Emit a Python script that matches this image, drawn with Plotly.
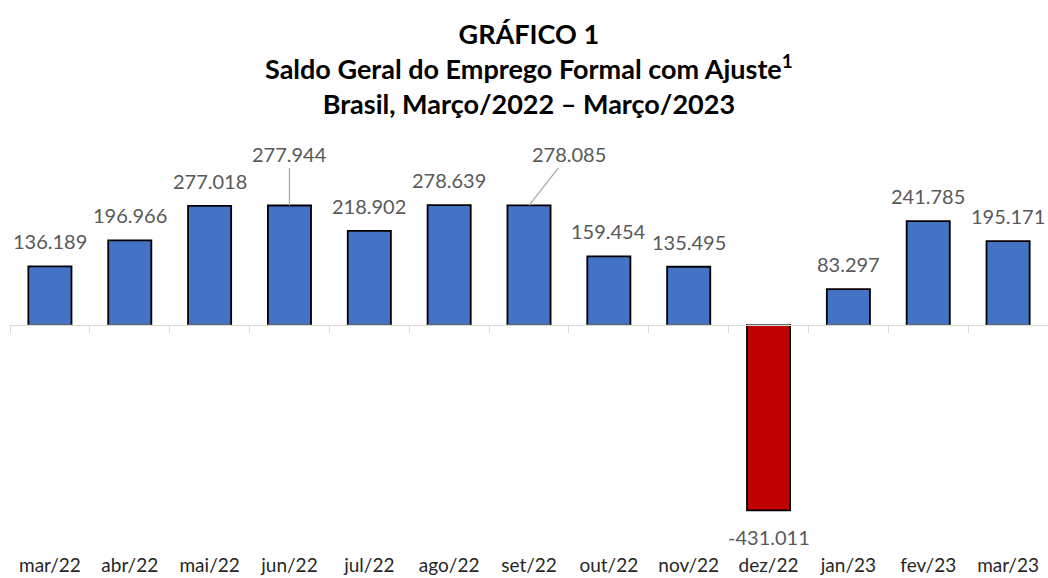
import plotly.graph_objects as go

categories = ["mar/22", "abr/22", "mai/22", "jun/22", "jul/22", "ago/22", "set/22",
              "out/22", "nov/22", "dez/22", "jan/23", "fev/23", "mar/23"]
values = [136189, 196966, 277018, 277944, 218902, 278639, 278085,
          159454, 135495, -431011, 83297, 241785, 195171]
leader_labels = {"jun/22": (0, -51), "set/22": (40, -51)}

def fmt(v):
    return f"{v:,}".replace(",", ".")

colors = ["#C00000" if v < 0 else "#4472C4" for v in values]

FONT = "Lato"
LABEL_FONT = dict(family=FONT, size=20, color="#595959")
fig = go.Figure()
fig.add_trace(go.Bar(
    x=categories, y=values, marker=dict(color=colors, line=dict(color="black", width=1.8)),
    width=0.54, showlegend=False, hoverinfo="skip",
))
# invisible trace on secondary x axis for tick marks along zero line
fig.add_trace(go.Bar(x=categories, y=[0]*len(categories), xaxis="x2", yaxis="y",
                     showlegend=False, hoverinfo="skip", marker=dict(color="rgba(0,0,0,0)")))

for c, v in zip(categories, values):
    if c in leader_labels:
        ax, ay = leader_labels[c]
        fig.add_annotation(x=c, y=v, text=fmt(v), showarrow=True, arrowhead=0,
                           arrowwidth=1.2, arrowcolor="#A6A6A6", ax=ax, ay=ay,
                           font=LABEL_FONT)
    else:
        fig.add_annotation(x=c, y=v, text=fmt(v), showarrow=False,
                           yanchor="bottom" if v >= 0 else "top",
                           yshift=11 if v >= 0 else -13, font=LABEL_FONT)

fig.add_annotation(
    text="<b>GRÁFICO 1<br>Saldo Geral do Emprego Formal com Ajuste<sup>1</sup><br>Brasil, Março/2022 – Março/2023</b>",
    xref="paper", yref="paper", x=0.5, y=1.526, xanchor="center", yanchor="top",
    showarrow=False, font=dict(family=FONT, size=27, color="black"))

ymin, ymax = -500000, 300000
fig.update_layout(
    width=1048, height=578,
    margin=dict(l=10, r=0, t=196, b=38),
    paper_bgcolor="white", plot_bgcolor="white",
    xaxis=dict(showline=False, ticks="", showgrid=False, ticklabelstandoff=12,
               tickfont=dict(family=FONT, size=19, color="#262626")),
    xaxis2=dict(overlaying="x", anchor="free", position=(0 - ymin) / (ymax - ymin),
                showline=True, linecolor="#D9D9D9", linewidth=1.3,
                ticks="outside", ticklen=7, tickcolor="#D9D9D9", tickwidth=1.3,
                tickson="boundaries", showticklabels=False, showgrid=False, side="bottom"),
    yaxis=dict(range=[ymin, ymax], visible=False, showgrid=False, zeroline=False),
    bargap=0.46,
)
fig.write_html("out.html", config={"displayModeBar": False},
               post_script="document.body.style.margin='0';")
